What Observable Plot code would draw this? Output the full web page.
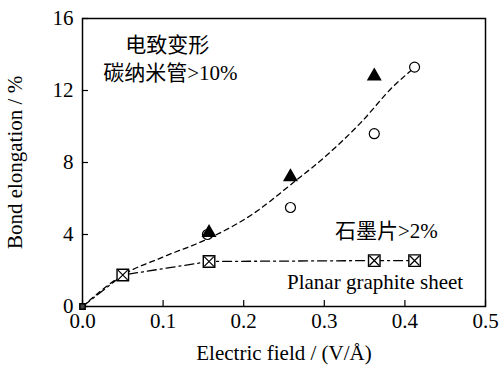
<!DOCTYPE html>
<html><head><meta charset="utf-8">
<script src="https://cdn.jsdelivr.net/npm/d3@7"></script>
<script src="https://cdn.jsdelivr.net/npm/@observablehq/plot@0.6"></script>
<style>
body{margin:0;background:#fff}
#chart svg text{font-family:'Liberation Serif','Times New Roman','Noto Sans CJK SC',serif !important;font-size:21px !important}
</style>
</head><body><div id="chart"></div>
<script>
// Data
const circleX = [0.155, 0.258, 0.362, 0.412];
const circleY = [4.0, 5.5, 9.6, 13.3];
const triX = [0.157, 0.258, 0.362];
const triY = [4.1, 7.2, 12.8];
const sqX = [0.05, 0.157, 0.362, 0.412];
const sqY = [1.75, 2.5, 2.55, 2.55];
const originX = [0];
const originY = [0];
const fitX = [0, 0.05, 0.1, 0.155, 0.21, 0.262, 0.303, 0.345, 0.385, 0.41];
const fitY = [0, 1.75, 2.75, 3.75, 5.1, 6.9, 8.4, 10.2, 12.2, 13.2];
const graphX = [0, 0.05, 0.157, 0.362, 0.412];
const graphY = [0, 1.75, 2.5, 2.55, 2.55];
const xTicks = [0, 0.1, 0.2, 0.3, 0.4, 0.5];
const yTicks = [0, 4, 8, 12, 16];
const notes = [
  {x: 0.105, y: 14.5, t: "电致变形"},
  {x: 0.109, y: 12.94, t: "碳纳米管>10%"},
  {x: 0.377, y: 4.2, t: "石墨片>2%"},
  {x: 0.363, y: 1.33, t: "Planar graphite sheet"}
];
const pts = (xs, ys) => xs.map((x, i) => ({x, y: ys[i]}));

const W = 500, H = 365, mL = 82, mR = 15, mT = 18, mB = 59;
const pw = W - mL - mR, ph = H - mT - mB;
const chart = Plot.plot({
  width: W, height: H,
  marginLeft: mL, marginRight: mR, marginTop: mT, marginBottom: mB,
  style: {color: "#000", background: "#fff"},
  x: {domain: [0, 0.5]},
  y: {domain: [0, 16]},
  marks: [
    Plot.frame({stroke: "#000", strokeWidth: 1.5}),
    Plot.axisX({ticks: xTicks, tickFormat: d3.format(".1f"), tickSize: 0, tickPadding: 7, label: "Electric field / (V/Å)", labelAnchor: "center", labelArrow: false, labelOffset: 53}),
    Plot.axisY({ticks: yTicks, tickSize: 0, tickPadding: 9, label: "Bond elongation / %", labelAnchor: "center", labelArrow: false, labelOffset: 75}),
    Plot.tickX(xTicks, {x: d => d, stroke: "#000", strokeWidth: 1.2, insetTop: ph - 6}),
    Plot.tickY(yTicks, {y: d => d, stroke: "#000", strokeWidth: 1.2, insetRight: pw - 6}),
    Plot.line(pts(fitX, fitY), {x: "x", y: "y", curve: "monotone-x", stroke: "#000", strokeWidth: 1.3, strokeDasharray: "5,4"}),
    Plot.line(pts(graphX, graphY), {x: "x", y: "y", stroke: "#000", strokeWidth: 1.3, strokeDasharray: "9,4,2,4"}),
    Plot.dot(pts(circleX, circleY), {x: "x", y: "y", symbol: "circle", r: 5, fill: "#fff", stroke: "#000", strokeWidth: 1.2}),
    Plot.dot(pts(triX, triY), {x: "x", y: "y", symbol: "triangle", r: 4.6, fill: "#000", stroke: "#000"}),
    Plot.dot(pts(sqX, sqY), {x: "x", y: "y", symbol: "square", r: 6.5, fill: "#fff", stroke: "#000", strokeWidth: 1.4}),
    Plot.dot(pts(sqX, sqY), {x: "x", y: "y", symbol: "times", r: 4.5, stroke: "#000", strokeWidth: 1.2}),
    Plot.dot(pts(originX, originY), {x: "x", y: "y", symbol: "square", r: 3, fill: "#444", stroke: "#000"}),
    Plot.text(notes, {x: "x", y: "y", text: "t", fill: "#000"})
  ]
});
document.getElementById("chart").appendChild(chart);
</script></body></html>
